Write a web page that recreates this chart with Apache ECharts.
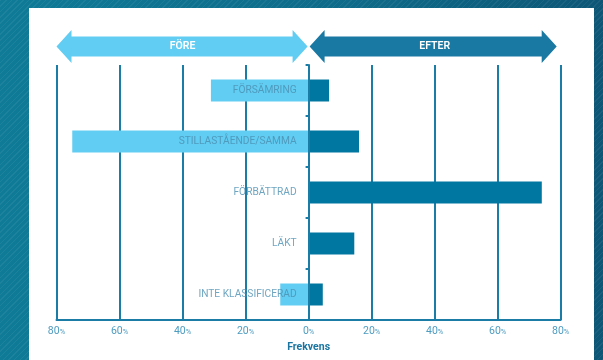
<!DOCTYPE html>
<html>
<head>
<meta charset="utf-8">
<script src="https://cdn.jsdelivr.net/npm/echarts@6/dist/echarts.min.js"></script>
<style>
  html, body { margin: 0; padding: 0; }
  body {
    width: 603px; height: 360px; overflow: hidden; position: relative;
    background:
      repeating-linear-gradient(135deg, rgba(255,255,255,0.06) 0 1px, rgba(0,0,0,0) 1px 4px),
      linear-gradient(90deg, #0f7b97 0%, #0e6a88 60%, #0d5676 100%);
  }
  #panel { position: absolute; left: 29px; top: 8px; width: 565px; height: 352px; background: #fff; }
  #main { position: absolute; left: 0; top: 0; width: 603px; height: 360px; }
</style>
</head>
<body>
<div id="panel"></div>
<div id="main"></div>
<script>
// kategorier uppifrån och ned
const categories = ['FÖRSÄMRING', 'STILLASTÅENDE/SAMMA', 'FÖRBÄTTRAD', 'LÄKT', 'INTE KLASSIFICERAD'];
// andel i procent
const fore = [31, 75, 0, 0, 9];
const efter = [6.5, 16, 74, 14.5, 4.5];
const xTicks = [-80, -60, -40, -20, 0, 20, 40, 60, 80];

const lineColor = '#1b7ca5';
const lightBlue = '#62cdf2';
const darkBlue = '#0077a1';

const chart = echarts.init(document.getElementById('main'), null, { renderer: 'canvas' });

const option = {
  backgroundColor: 'transparent',
  animation: false,
  textStyle: { fontFamily: 'Roboto, "DejaVu Sans", sans-serif' },
  grid: { left: 56.5, right: 42.3, top: 65, bottom: 40, containLabel: false, outerBoundsMode: 'none' },
  xAxis: {
    type: 'value',
    min: xTicks[0],
    max: xTicks[xTicks.length - 1],
    interval: 20,
    name: 'Frekvens',
    nameLocation: 'middle',
    nameGap: 18,
    nameTextStyle: { color: '#1a75a0', fontWeight: 'bold', fontSize: 10.5 },
    axisLine: { show: true, onZero: false, lineStyle: { color: lineColor, width: 2 } },
    axisTick: { show: false },
    splitLine: { show: true, lineStyle: { color: lineColor, width: 2 } },
    axisLabel: {
      margin: 6,
      formatter: function (v) { return '{n|' + Math.abs(v) + '}{p|%}'; },
      rich: {
        n: { color: '#4e9cc0', fontSize: 10.5 },
        p: { color: '#4e9cc0', fontSize: 7.5, padding: [2, 0, 0, 0] }
      }
    }
  },
  yAxis: {
    type: 'category',
    inverse: true,
    data: categories,
    z: 4,
    axisLine: { show: true, onZero: true, lineStyle: { color: lineColor, width: 2 } },
    axisTick: { show: true, length: 3, lineStyle: { color: lineColor, width: 2 } },
    axisLabel: { show: false }
  },
  series: [
    {
      name: 'FÖRE',
      type: 'bar',
      stack: 'tot',
      barWidth: 22,
      itemStyle: { color: lightBlue },
      data: fore.map(function (v) { return -v; })
    },
    {
      name: 'EFTER',
      type: 'bar',
      stack: 'tot',
      barWidth: 22,
      itemStyle: { color: darkBlue },
      data: efter
    },
    {
      // kategorinamnen vid nollan, ovanpå staplarna
      type: 'scatter',
      symbolSize: 0,
      z: 10,
      silent: true,
      label: {
        show: true,
        position: 'left',
        distance: 12,
        color: '#4a8fb0',
        fontSize: 10.2,
        formatter: function (p) { return p.value[1]; }
      },
      data: categories.map(function (c) { return [0, c]; })
    }
  ]
};
chart.setOption(option);

// pilarna överst, placerade efter axelns -80, 0 och 80
const xl = chart.convertToPixel({ xAxisIndex: 0 }, -80);
const x0 = chart.convertToPixel({ xAxisIndex: 0 }, 0);
const xr = chart.convertToPixel({ xAxisIndex: 0 }, 80);
const yMid = 46.5, shaft = 10, head = 16.5, headLen = 15, gap = 1;

function arrow(a, b) {
  return [
    [a, yMid], [a + headLen, yMid - head], [a + headLen, yMid - shaft],
    [b - headLen, yMid - shaft], [b - headLen, yMid - head], [b, yMid],
    [b - headLen, yMid + head], [b - headLen, yMid + shaft],
    [a + headLen, yMid + shaft], [a + headLen, yMid + head]
  ];
}

chart.setOption({
  graphic: [
    { type: 'polygon', shape: { points: arrow(xl, x0 - gap) }, style: { fill: lightBlue } },
    { type: 'polygon', shape: { points: arrow(x0 + gap, xr - 4) }, style: { fill: '#1a79a3' } },
    { type: 'text', x: (xl + x0) / 2, y: yMid, style: { text: 'FÖRE', fill: '#fff', font: '600 10.5px Roboto, sans-serif', align: 'center', verticalAlign: 'middle' } },
    { type: 'text', x: (x0 + xr) / 2, y: yMid, style: { text: 'EFTER', fill: '#fff', font: '600 10.5px Roboto, sans-serif', align: 'center', verticalAlign: 'middle' } }
  ]
});
</script>
</body>
</html>
